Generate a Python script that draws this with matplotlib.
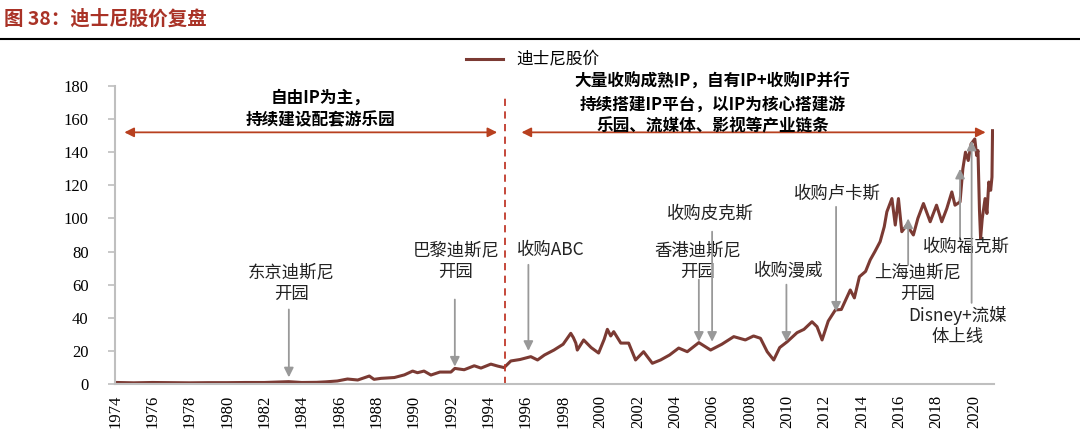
import matplotlib
matplotlib.use("Agg")
import matplotlib.pyplot as plt

plt.rcParams['font.family'] = ['Noto Sans CJK SC', 'DejaVu Sans']

# 迪士尼股价 (decimal years)
years = [1974.1, 1975.0, 1976.0, 1977.0, 1978.0, 1979.0, 1980.0, 1981.0, 1982.0,
         1983.3, 1984.0, 1984.8, 1985.3, 1985.9, 1986.45, 1987.0, 1987.62, 1987.87,
         1988.25, 1988.96, 1989.5, 1989.94, 1990.2, 1990.55, 1990.92, 1991.4, 1991.99,
         1992.2, 1992.7, 1993.24, 1993.6, 1994.13, 1994.5, 1994.84, 1995.2, 1995.7,
         1996.27, 1996.63, 1997.0, 1997.51, 1998.0, 1998.41, 1998.55, 1998.68, 1998.76,
         1999.1, 1999.5, 1999.9, 2000.2, 2000.37, 2000.55, 2000.71, 2001.09, 2001.51,
         2001.88, 2002.31, 2002.78, 2003.22, 2003.7, 2004.19, 2004.65, 2005.27, 2005.9,
         2006.5, 2007.14, 2007.76, 2008.2, 2008.57, 2008.93, 2009.28, 2009.6, 2010.0,
         2010.53, 2010.9, 2011.33, 2011.6, 2011.87, 2012.2, 2012.58, 2012.9, 2013.38,
         2013.6, 2013.87, 2014.2, 2014.45, 2014.7, 2014.98, 2015.2, 2015.34, 2015.61,
         2015.79, 2015.96, 2016.14, 2016.41, 2016.76, 2017.0, 2017.3, 2017.66, 2018.0,
         2018.28, 2018.55, 2018.82, 2018.99, 2019.26, 2019.41, 2019.55, 2019.7, 2019.85,
         2020.05, 2020.15, 2020.22, 2020.3, 2020.36, 2020.45, 2020.6, 2020.7, 2020.8,
         2020.9, 2020.97, 2021.0]
price = [0.9, 0.7, 0.9, 0.8, 0.7, 0.8, 0.8, 0.9, 0.9,
         1.4, 0.9, 1.0, 1.3, 1.8, 3.0, 2.4, 4.8, 2.8,
         3.4, 3.9, 5.5, 7.8, 6.8, 7.8, 5.4, 7.2, 7.2,
         9.4, 8.6, 11.0, 9.6, 12.0, 10.8, 9.9, 13.9, 14.8,
         16.5, 14.5, 17.5, 20.5, 24.0, 30.6, 28.0, 24.7, 20.5,
         26.6, 22.0, 18.7, 27.0, 33.0, 29.0, 31.6, 24.7, 24.7,
         14.5, 19.5, 12.5, 14.5, 17.5, 21.7, 19.5, 25.0, 20.5,
         24.0, 28.6, 26.6, 29.0, 27.6, 19.5, 14.5, 22.0, 25.5,
         31.0, 33.0, 37.6, 34.6, 26.6, 38.0, 44.7, 45.0, 56.8,
         52.0, 64.8, 68.0, 75.0, 80.0, 86.0, 95.0, 104.0, 112.0,
         96.0, 112.0, 92.0, 96.0, 90.0, 100.0, 109.0, 98.0, 108.0,
         98.0, 106.0, 116.0, 108.0, 110.0, 130.0, 140.0, 135.0, 145.0,
         148.0, 138.0, 141.0, 105.0, 88.0, 100.0, 112.0, 103.0, 122.0,
         117.0, 125.0, 153.0]

# events: label, arrow x, arrow start y, arrow tip y, text x, text y
events = [
    ('东京迪斯尼\n开园', 1983.31, 45, 4, 1983.46, 61),
    ('巴黎迪斯尼\n开园', 1992.2, 51, 10.5, 1992.26, 74),
    ('收购ABC', 1996.14, 72, 20, 1997.34, 81),
    ('香港迪斯尼\n开园', 2005.27, 63, 25.5, 2005.22, 74),
    ('收购皮克斯', 2005.98, 92, 25.5, 2005.9, 103),
    ('收购漫威', 2009.96, 60, 25.5, 2010.06, 68),
    ('收购卢卡斯', 2012.62, 107, 43.7, 2012.71, 115),
    ('上海迪斯尼\n开园', 2016.48, 72, 100, 2016.96, 61),
    ('收购福克斯', 2019.26, 87, 130, 2019.62, 83),
    ('Disney+流媒\n体上线', 2019.88, 49, 147, 2019.1, 35),
]

periods = [
    ('自由IP为主，\n持续建设配套游乐园', 1974.5, 1994.47, 1985.0, 166),
    ('大量收购成熟IP，自有IP+收购IP并行\n持续搭建IP平台，以IP为核心搭建游\n乐园、流媒体、影视等产业链条',
     1995.77, 2020.63, 2006.0, 169),
]
split_year = 1994.89

fig = plt.figure(figsize=(10.8, 4.41), dpi=100)
ax = fig.add_axes([0.1065, 0.1293, 0.8139, 0.6757])

ax.plot(years, price, color='#7B3A33', lw=2.2, label='迪士尼股价')

ax.set_xlim(1974.07, 2021.08)
ax.set_ylim(0, 180)
ax.set_xticks(range(1974, 2021, 2))
ax.set_xticklabels([str(y) for y in range(1974, 2021, 2)], rotation=90,
                   family='Liberation Serif', fontsize=12)
ax.set_yticks(range(0, 181, 20))
ax.set_yticklabels([str(v) for v in range(0, 181, 20)],
                   family='Liberation Serif', fontsize=12)
ax.tick_params(axis='x', length=0, pad=8)
ax.tick_params(axis='y', length=5, color='#BFBFBF', width=1.2, pad=14)
for s in ['top', 'right']:
    ax.spines[s].set_visible(False)
for s in ['left', 'bottom']:
    ax.spines[s].set_color('#BFBFBF')
    ax.spines[s].set_linewidth(1.5)

# split line
ax.plot([split_year, split_year], [0, 175], color='#C0392B', lw=1.3,
        ls=(0, (4, 3)), clip_on=False)

for txt, x0, x1, tx, ty in periods:
    ax.annotate('', xy=(x0, 152), xytext=(x1, 152),
                arrowprops=dict(arrowstyle='<|-|>', color='#B8401F', lw=1.3,
                                mutation_scale=14, shrinkA=0, shrinkB=0),
                annotation_clip=False)
    ax.text(tx, ty, txt, ha='center', va='center', fontsize=12,
            fontweight='bold', linespacing=1.3, clip_on=False)

for txt, ax_x, y0, y1, tx, ty in events:
    ax.annotate('', xy=(ax_x, y1), xytext=(ax_x, y0),
                arrowprops=dict(arrowstyle='-|>', color='#999999', lw=1.3,
                                mutation_scale=14, shrinkA=0, shrinkB=0))
    ax.text(tx, ty, txt, ha='center', va='center', fontsize=12.5,
            linespacing=1.25, color='#222222')

fig.legend(loc='center', bbox_to_anchor=(0.493, 0.864), frameon=False,
           handlelength=2.2, fontsize=12)

fig.text(0.004, 0.958, '图 38：迪士尼股价复盘', ha='left', va='center',
         fontsize=14, fontweight='bold', color='#A93226')
fig.add_artist(plt.Line2D([0, 1], [0.912, 0.912], color='black', lw=1.5))

fig.savefig('out.png', dpi=100)
